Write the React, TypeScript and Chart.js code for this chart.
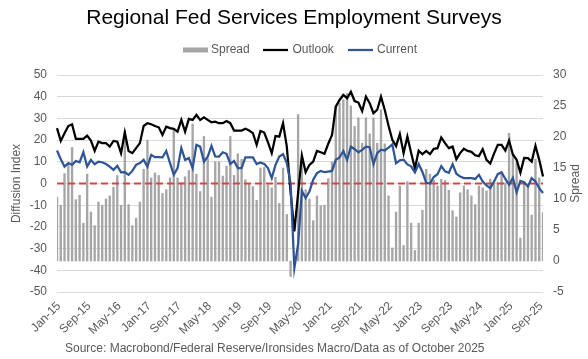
import React, { useEffect, useRef } from 'react';
import { Chart, registerables } from 'chart.js';

Chart.register(...registerables);

const MONTH_NAMES = ['Jan', 'Feb', 'Mar', 'Apr', 'May', 'Jun', 'Jul', 'Aug', 'Sep', 'Oct', 'Nov', 'Dec'];
const FIRST_YEAR = 2015;
const LAST_YEAR = 2025;
const LAST_MONTH_INDEX = 9; // Oct-25

const CATEGORIES: string[] = [];
for (let y = FIRST_YEAR; y <= LAST_YEAR; y++) {
  for (let m = 0; m < 12; m++) {
    if (y === LAST_YEAR && m > LAST_MONTH_INDEX) break;
    CATEGORIES.push(`${MONTH_NAMES[m]}-${String(y).slice(2)}`);
  }
}

const TICK_LABELS = [
  'Jan-15', 'Sep-15', 'May-16', 'Jan-17', 'Sep-17', 'May-18', 'Jan-19', 'Sep-19', 'May-20',
  'Jan-21', 'Sep-21', 'May-22', 'Jan-23', 'Sep-23', 'May-24', 'Jan-25', 'Sep-25',
];

const OUTLOOK = [
  25.5, 19.6, 23.2, 26.5, 27.3, 20.6, 20.6, 20.6, 22.1, 19.8, 15.0, 19.3,
  18.6, 18.6, 17.0, 19.6, 19.3, 14.0, 23.5, 15.0, 14.0, 16.3, 18.6, 26.5,
  27.8, 27.3, 26.5, 25.9, 22.4, 26.2, 25.5, 25.2, 23.9, 29.3, 23.9, 29.8,
  29.3, 31.6, 29.3, 30.5, 29.3, 28.2, 28.5, 27.8, 27.8, 28.8, 27.8, 24.4,
  24.4, 24.4, 25.2, 24.4, 23.2, 17.8, 24.2, 23.5, 19.0, 14.0, 21.9, 21.6,
  27.8, 17.0, -4.0, -22.1, -4.4, 12.9, 5.2, 8.6, 10.1, 15.0, 14.4, 13.7,
  18.3, 22.4, 35.4, 38.5, 40.8, 39.3, 42.3, 38.0, 37.3, 33.4, 40.0, 37.0,
  32.4, 34.0, 40.0, 33.9, 26.6, 20.1, 17.2, 22.8, 14.0, 21.6, 14.0, 6.9,
  15.1, 13.5, 15.0, 13.5, 16.0, 16.3, 21.2, 18.6, 16.3, 17.0, 11.2, 14.0,
  16.0, 15.0, 14.6, 13.0, 12.6, 15.8, 10.9, 9.2, 13.8, 17.8, 17.8, 15.2,
  19.8, 13.4, 10.9, 5.0, 11.8, 11.7, 10.1, 17.4, 10.9, 3.2,
];

const CURRENT = [
  15.2, 11.2, 7.8, 9.4, 8.6, 10.4, 9.8, 14.4, 7.8, 10.9, 8.9, 10.1,
  9.8, 9.0, 7.8, 6.3, 8.1, 5.1, 5.2, 4.0, 5.8, 8.6, 9.4, 10.9,
  7.8, 13.2, 12.1, 12.1, 12.0, 15.0, 9.4, 4.0, 7.1, 16.3, 10.9, 11.7,
  7.1, 17.8, 17.0, 10.1, 12.4, 17.3, 12.5, 12.4, 14.4, 13.7, 9.0, 10.4,
  7.1, 7.1, 12.0, 12.0, 12.0, 9.0, 9.7, 9.0, 7.1, 2.5, 8.6, 12.4,
  13.5, 9.4, 0.0, -39.0, -28.0, -3.4, -6.7, -3.7, 1.7, 4.8, 5.8, 5.2,
  5.5, 5.8, 10.9, 12.0, 15.0, 10.9, 17.0, 15.8, 14.4, 15.5, 17.0, 16.7,
  8.9, 14.0, 15.6, 15.2, 16.5, 18.0, 9.3, 10.7, 11.0, 8.8, 7.9, 5.1,
  9.0, 5.3, 0.3, 0.0, 3.0, 4.3, 8.0, 5.6, 4.9, 8.9, 4.5, 3.2,
  2.5, 2.5, 2.5, 2.1, 4.0, 0.9, -0.9, -2.1, 0.9, 4.3, 5.2, 2.1,
  -0.6, 2.5, -4.1, 1.2, 0.6, -1.4, 2.5, 0.9, -2.1, -4.4,
];

const SPREAD: (number | null)[] = [
  10.3, 9.0, 14.1, 15.7, 18.3, 9.9, 10.6, 6.1, 14.0, 7.9, 5.7, 9.5,
  9.0, 10.0, 10.5, 11.9, 13.8, 9.0, 21.0, 9.1, 5.7, 6.9, 9.5, 14.8,
  19.5, 13.4, 14.2, 13.8, 10.9, 11.5, 13.4, 21.1, 13.4, 12.6, 13.6, 14.6,
  22.1, 14.0, 11.2, 20.1, 16.5, 10.3, 16.0, 16.0, 13.7, 15.3, 20.1, 13.8,
  17.3, 16.4, 13.1, 12.4, 12.0, 9.8, 15.0, 15.1, 12.3, 11.8, 13.5, 9.3,
  15.0, 7.5, -2.5, null, 23.6, 16.5, 11.5, 10.0, 6.5, 10.5, 8.9, 9.0,
  13.3, 16.0, 25.0, 25.5, 26.0, 27.0, 25.0, 21.7, 23.1, 19.0, 23.1, 20.5,
  23.1, 19.0, 24.4, 18.9, 10.5, 2.1, 7.9, 12.1, 2.5, 12.8, 6.1, 1.7,
  6.1, 8.2, 14.8, 14.0, 13.0, 12.1, 13.2, 13.0, 11.4, 8.1, 7.1, 11.0,
  12.1, 11.5, 10.5, 9.1, 12.1, 11.8, 11.3, 13.2, 12.7, 12.6, 14.0, 12.6,
  20.6, 17.2, 15.8, 3.7, 12.5, 12.2, 7.4, 16.4, 13.4, 7.8,
];

const TITLE = 'Regional Fed Services Employment Surveys';
const SOURCE = 'Source: Macrobond/Federal Reserve/Ironsides Macro/Data as of October 2025';
const LEFT_TITLE = 'Diffusion Index';
const RIGHT_TITLE = 'Spread';

const FONT = '"Liberation Sans", Arial, sans-serif';
const TEXT_COLOR = '#595959';
const BAR_COLOR = '#a6a6a6';
const OUTLOOK_COLOR = '#000000';
const CURRENT_COLOR = '#2f5597';
const ZERO_COLOR = '#d64541';
const GRID_COLOR = '#d9d9d9';

const decorPlugin = {
  id: 'decor',
  afterDatasetDraw(chart: any, args: any) {
    if (args.index !== 0) return;
    const { ctx, chartArea } = chart;
    const y = chart.scales.y.getPixelForValue(0);
    ctx.save();
    ctx.strokeStyle = ZERO_COLOR;
    ctx.lineWidth = 2;
    ctx.setLineDash([7, 4]);
    ctx.beginPath();
    ctx.moveTo(chartArea.left, y);
    ctx.lineTo(chartArea.right, y);
    ctx.stroke();
    ctx.restore();
  },
  afterDraw(chart: any) {
    const { ctx, chartArea } = chart;
    ctx.save();
    // Title
    ctx.fillStyle = '#000000';
    ctx.font = `21px ${FONT}`;
    ctx.textAlign = 'center';
    ctx.textBaseline = 'middle';
    ctx.fillText(TITLE, 294, 18);

    // Legend
    ctx.font = `12px ${FONT}`;
    ctx.textAlign = 'left';
    ctx.fillStyle = BAR_COLOR;
    ctx.fillRect(183, 47.5, 25, 5);
    ctx.fillStyle = TEXT_COLOR;
    ctx.fillText('Spread', 211, 50);
    ctx.lineWidth = 2.25;
    ctx.strokeStyle = OUTLOOK_COLOR;
    ctx.beginPath();
    ctx.moveTo(263, 50);
    ctx.lineTo(288, 50);
    ctx.stroke();
    ctx.fillText('Outlook', 292.5, 50);
    ctx.strokeStyle = CURRENT_COLOR;
    ctx.beginPath();
    ctx.moveTo(348, 50);
    ctx.lineTo(373, 50);
    ctx.stroke();
    ctx.fillText('Current', 377, 50);

    // Source
    ctx.fillStyle = TEXT_COLOR;
    ctx.font = `12px ${FONT}`;
    ctx.textAlign = 'left';
    ctx.fillText(SOURCE, 65, 349);

    // Axis titles
    const midY = (chartArea.top + chartArea.bottom) / 2;
    ctx.textAlign = 'center';
    ctx.save();
    ctx.translate(17, midY);
    ctx.rotate(-Math.PI / 2);
    ctx.fillText(LEFT_TITLE, 0, 0);
    ctx.restore();
    ctx.save();
    ctx.translate(576, midY);
    ctx.rotate(-Math.PI / 2);
    ctx.fillText(RIGHT_TITLE, 0, 0);
    ctx.restore();
    ctx.restore();
  },
};

export default function App() {
  const canvasRef = useRef<HTMLCanvasElement | null>(null);

  useEffect(() => {
    const canvas = canvasRef.current;
    if (!canvas) return;
    const chart = new Chart(canvas, {
      type: 'bar',
      data: {
        labels: CATEGORIES,
        datasets: [
          {
            type: 'bar',
            label: 'Spread',
            data: SPREAD,
            yAxisID: 'y1',
            backgroundColor: BAR_COLOR,
            barThickness: 1.7,
            order: 3,
          },
          {
            type: 'line',
            label: 'Outlook',
            data: OUTLOOK,
            yAxisID: 'y',
            borderColor: OUTLOOK_COLOR,
            borderWidth: 2.25,
            pointRadius: 0,
            tension: 0,
            order: 2,
          },
          {
            type: 'line',
            label: 'Current',
            data: CURRENT,
            yAxisID: 'y',
            borderColor: CURRENT_COLOR,
            borderWidth: 2.25,
            pointRadius: 0,
            tension: 0,
            order: 1,
          },
        ],
      } as any,
      options: {
        responsive: false,
        animation: false,
        layout: { padding: { top: 75, bottom: 17, left: 0, right: 0 } },
        plugins: {
          legend: { display: false },
          title: { display: false },
          tooltip: { enabled: false },
        },
        scales: {
          x: {
            type: 'category',
            offset: false,
            grid: { display: false, drawTicks: false },
            border: { display: false },
            ticks: {
              autoSkip: false,
              minRotation: 45,
              maxRotation: 45,
              padding: 7,
              labelOffset: 2,
              color: TEXT_COLOR,
              font: { family: FONT, size: 12 },
              callback: (_v: any, i: number) => (TICK_LABELS.includes(CATEGORIES[i]) ? CATEGORIES[i] : ''),
            },
            afterFit: (s: any) => {
              s.height = 50;
            },
          },
          y: {
            position: 'left',
            min: -50,
            max: 50,
            grid: { color: GRID_COLOR, drawTicks: false, lineWidth: 1 },
            border: { display: false },
            ticks: {
              stepSize: 10,
              padding: 10,
              color: TEXT_COLOR,
              font: { family: FONT, size: 12 },
            },
            afterFit: (s: any) => {
              s.width = 57;
            },
          },
          y1: {
            position: 'right',
            min: -5,
            max: 30,
            grid: { display: false, drawTicks: false },
            border: { display: false },
            ticks: {
              stepSize: 5,
              padding: 10,
              color: TEXT_COLOR,
              font: { family: FONT, size: 12 },
            },
            afterFit: (s: any) => {
              s.width = 45;
            },
          },
        },
      } as any,
      plugins: [decorPlugin],
    });
    return () => chart.destroy();
  }, []);

  return (
    <div style={{ position: 'absolute', left: 0, top: 0, width: 588, height: 359, background: '#ffffff' }}>
      <canvas ref={canvasRef} width={588} height={359} style={{ display: 'block' }} />
    </div>
  );
}
